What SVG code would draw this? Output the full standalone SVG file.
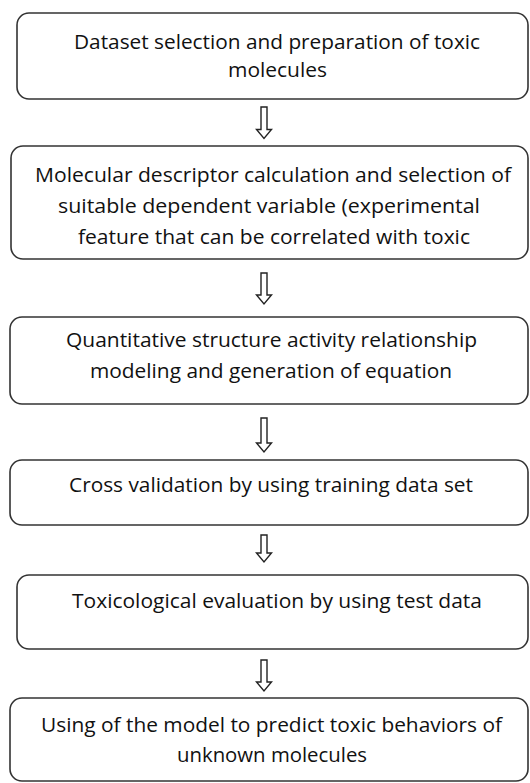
<svg xmlns="http://www.w3.org/2000/svg" width="530" height="783" viewBox="0 0 530 783">
<style>
.box{fill:#fff;stroke:#333;stroke-width:1.6}
.t{font-family:"Open Sans","Liberation Sans",sans-serif;font-size:20px;fill:#111}
.arr{fill:#fff;stroke:#222;stroke-width:1.4;stroke-linejoin:miter}
</style>
<rect width="530" height="783" fill="#fff"/>
<g id="connectors">
<polygon class="arr" points="261,107 267,107 267,129.5 271.5,129.5 264,138.5 256.5,129.5 261,129.5"/>
<polygon class="arr" points="261,273 267,273 267,295 271.5,295 264,304 256.5,295 261,295"/>
<polygon class="arr" points="261,418 267,418 267,443 271.5,443 264,452 256.5,443 261,443"/>
<polygon class="arr" points="261,535 267,535 267,553 271.5,553 264,562 256.5,553 261,553"/>
<polygon class="arr" points="261,660 267,660 267,682 271.5,682 264,691 256.5,682 261,682"/>
</g>
<g id="n1">
<rect class="box" x="17" y="13" width="511" height="86" rx="12"/>
<text class="t" x="74" y="49" textLength="406" lengthAdjust="spacingAndGlyphs">Dataset selection and preparation of toxic</text>
<text class="t" x="228" y="77" textLength="99" lengthAdjust="spacingAndGlyphs">molecules</text>
</g>
<g id="n2">
<rect class="box" x="11" y="146" width="517" height="113" rx="12"/>
<text class="t" x="35" y="182" textLength="476" lengthAdjust="spacingAndGlyphs">Molecular descriptor calculation and selection of</text>
<text class="t" x="58" y="213" textLength="422" lengthAdjust="spacingAndGlyphs">suitable dependent variable (experimental</text>
<text class="t" x="78" y="244" textLength="392" lengthAdjust="spacingAndGlyphs">feature that can be correlated with toxic</text>
</g>
<g id="n3">
<rect class="box" x="10" y="317" width="518" height="87" rx="12"/>
<text class="t" x="66" y="347" textLength="411" lengthAdjust="spacingAndGlyphs">Quantitative structure activity relationship</text>
<text class="t" x="90" y="378" textLength="362" lengthAdjust="spacingAndGlyphs">modeling and generation of equation</text>
</g>
<g id="n4">
<rect class="box" x="10" y="460" width="518" height="65" rx="12"/>
<text class="t" x="69" y="492" textLength="404" lengthAdjust="spacingAndGlyphs">Cross validation by using training data set</text>
</g>
<g id="n5">
<rect class="box" x="17" y="575" width="511" height="74" rx="12"/>
<text class="t" x="72" y="608" textLength="410" lengthAdjust="spacingAndGlyphs">Toxicological evaluation by using test data</text>
</g>
<g id="n6">
<rect class="box" x="10" y="698" width="518" height="83" rx="12"/>
<text class="t" x="41" y="732" textLength="461" lengthAdjust="spacingAndGlyphs">Using of the model to predict toxic behaviors of</text>
<text class="t" x="177" y="762" textLength="190" lengthAdjust="spacingAndGlyphs">unknown molecules</text>
</g>
</svg>
